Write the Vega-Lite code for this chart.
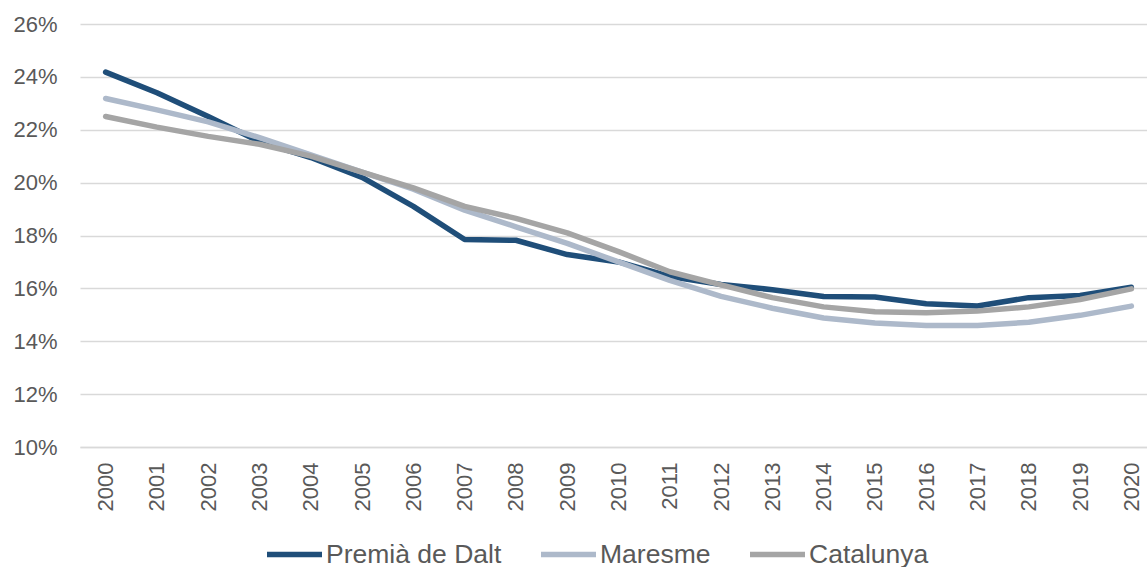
{
  "$schema": "https://vega.github.io/schema/vega-lite/v6.json",
  "width": 1077,
  "height": 423,
  "autosize": {"type": "none"},
  "padding": {"left": 80, "top": 24, "right": 0, "bottom": 120},
  "background": "white",
  "config": {
    "view": {"stroke": null},
    "font": "Liberation Sans"
  },
  "datasets": {
    "rows": [
      {"year": "2000", "Premià de Dalt": 24.18, "Maresme": 23.18, "Catalunya": 22.5},
      {"year": "2001", "Premià de Dalt": 23.4, "Maresme": 22.75, "Catalunya": 22.1},
      {"year": "2002", "Premià de Dalt": 22.5, "Maresme": 22.3, "Catalunya": 21.75},
      {"year": "2003", "Premià de Dalt": 21.55, "Maresme": 21.7, "Catalunya": 21.45},
      {"year": "2004", "Premià de Dalt": 20.95, "Maresme": 21.05, "Catalunya": 21.0},
      {"year": "2005", "Premià de Dalt": 20.2, "Maresme": 20.4, "Catalunya": 20.4},
      {"year": "2006", "Premià de Dalt": 19.1, "Maresme": 19.75, "Catalunya": 19.8},
      {"year": "2007", "Premià de Dalt": 17.85, "Maresme": 18.96, "Catalunya": 19.1},
      {"year": "2008", "Premià de Dalt": 17.82, "Maresme": 18.33, "Catalunya": 18.65},
      {"year": "2009", "Premià de Dalt": 17.28, "Maresme": 17.7, "Catalunya": 18.1},
      {"year": "2010", "Premià de Dalt": 17.0, "Maresme": 17.0, "Catalunya": 17.39},
      {"year": "2011", "Premià de Dalt": 16.45, "Maresme": 16.3, "Catalunya": 16.63},
      {"year": "2012", "Premià de Dalt": 16.15, "Maresme": 15.7, "Catalunya": 16.13},
      {"year": "2013", "Premià de Dalt": 15.95, "Maresme": 15.25, "Catalunya": 15.65},
      {"year": "2014", "Premià de Dalt": 15.69, "Maresme": 14.88, "Catalunya": 15.3},
      {"year": "2015", "Premià de Dalt": 15.67, "Maresme": 14.69, "Catalunya": 15.12},
      {"year": "2016", "Premià de Dalt": 15.42, "Maresme": 14.6, "Catalunya": 15.08},
      {"year": "2017", "Premià de Dalt": 15.33, "Maresme": 14.6, "Catalunya": 15.14},
      {"year": "2018", "Premià de Dalt": 15.65, "Maresme": 14.72, "Catalunya": 15.3},
      {"year": "2019", "Premià de Dalt": 15.73, "Maresme": 14.98, "Catalunya": 15.58},
      {"year": "2020", "Premià de Dalt": 16.04, "Maresme": 15.33, "Catalunya": 15.98}
    ]
  },
  "data": {"name": "rows"},
  "transform": [
    {"fold": ["Premià de Dalt", "Maresme", "Catalunya"], "as": ["series", "pct"]}
  ],
  "mark": {"type": "line", "strokeWidth": 5.5, "strokeCap": "round", "strokeJoin": "round"},
  "encoding": {
    "x": {
      "field": "year",
      "type": "ordinal",
      "scale": {"type": "point", "padding": 0.5},
      "axis": {
        "title": null,
        "labelAngle": -90,
        "labelAlign": "right",
        "labelBaseline": "middle",
        "labelPadding": 15,
        "labelFontSize": 22,
        "labelColor": "#595959",
        "ticks": false,
        "domain": true,
        "domainColor": "#D9D9D9",
        "domainWidth": 1.5,
        "grid": false
      }
    },
    "y": {
      "field": "pct",
      "type": "quantitative",
      "scale": {"domain": [10, 26], "nice": false, "zero": false},
      "axis": {
        "title": null,
        "values": [10, 12, 14, 16, 18, 20, 22, 24, 26],
        "labelExpr": "datum.value + '%'",
        "labelFontSize": 22,
        "labelColor": "#595959",
        "labelPadding": 23,
        "ticks": false,
        "domain": false,
        "grid": true,
        "gridColor": "#D9D9D9",
        "gridWidth": 1.5
      }
    },
    "color": {
      "field": "series",
      "type": "nominal",
      "sort": ["Premià de Dalt", "Maresme", "Catalunya"],
      "scale": {
        "domain": ["Premià de Dalt", "Maresme", "Catalunya"],
        "range": ["#1F4E79", "#ADB9CA", "#A5A5A5"]
      },
      "legend": {
        "title": null,
        "orient": "none",
        "direction": "horizontal",
        "legendX": 184,
        "legendY": 500,
        "symbolType": "stroke",
        "symbolSize": 3025,
        "symbolStrokeWidth": 5.5,
        "labelFontSize": 26.5,
        "labelLimit": 400,
        "labelColor": "#595959",
        "labelOffset": 1,
        "columnPadding": 28
      }
    }
  }
}
